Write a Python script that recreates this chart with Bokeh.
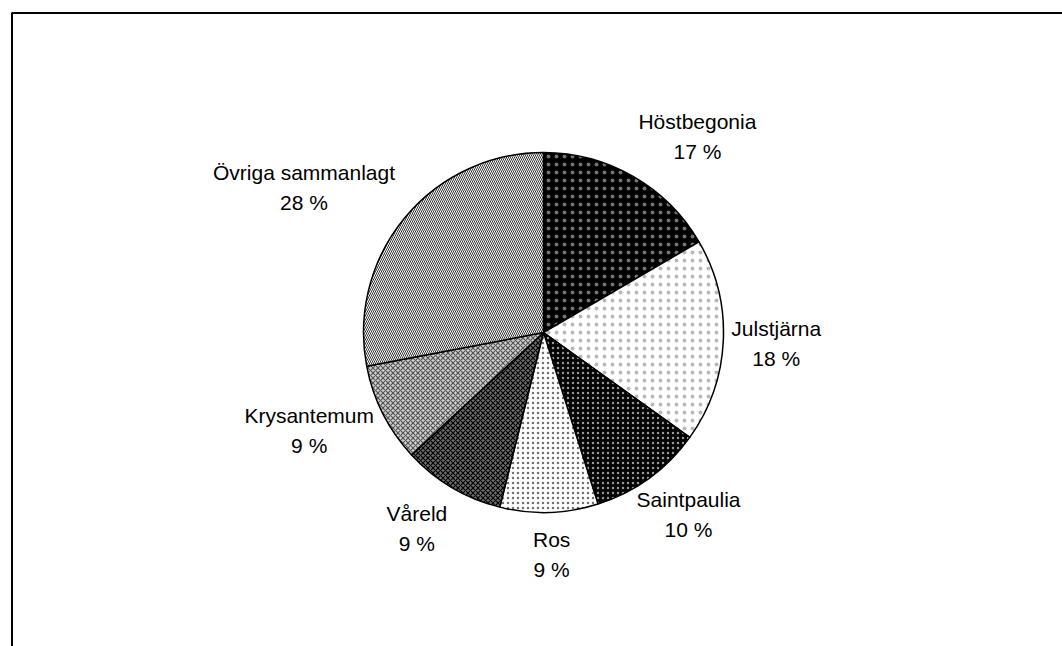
import math
from bokeh.plotting import figure
from bokeh.models import Range1d, BoxAnnotation, ColumnDataSource
from bokeh.embed import file_html
from bokeh.resources import INLINE
from bokeh.core.properties import value

# ---- data ----
categories = ["Höstbegonia", "Julstjärna", "Saintpaulia", "Ros", "Våreld", "Krysantemum", "Övriga sammanlagt"]
shares = [16.6, 18.3, 10.2, 8.8, 9.2, 8.9, 28.0]

# ---- styles (one per slice) ----
fill_colors = ["black", "white", "black", "white", "#6e6e6e", "#d0d0d0", "white"]
hatch_patterns = ["dot", "dot", "dot", "dot", "diagonal_cross", "diagonal_cross", "left_diagonal_line"]
hatch_colors = ["white", "#222222", "white", "#222222", "black", "#555555", "#333333"]
hatch_alphas = [0.45, 0.32, 0.6, 0.65, 1.0, 1.0, 1.0]
hatch_scales = [8, 8, 5, 5, 5, 5, 4]
hatch_weights = [1, 1, 1, 1, 1.2, 1.2, 1.0]

# ---- layout ----
W, H = 1062, 646
CX, CY, R = 543, 314, 180
label_dist = [249, 233, 233, 222, 233, 254, 280]
label_nudge = [8.3, 0.0, -2.5, -0.3, 2.3, 4.1, -8.4]  # degrees
LINE_GAP = 15
FONT = "Liberation Sans"

p = figure(width=W, height=H, x_range=Range1d(0, W), y_range=Range1d(0, H),
           output_backend="svg", toolbar_location=None, min_border=0,
           x_axis_location=None, y_axis_location=None)
p.grid.visible = False
p.outline_line_color = None
p.background_fill_color = "white"
p.border_fill_color = "white"

total = sum(shares)
starts, ends, mids = [], [], []
cum = 0.0
for s in shares:
    a0 = math.pi / 2 - 2 * math.pi * cum / total
    cum += s
    a1 = math.pi / 2 - 2 * math.pi * cum / total
    starts.append(a0)
    ends.append(a1)
    mids.append((a0 + a1) / 2)

src = ColumnDataSource(dict(
    start=starts, end=ends, fill=fill_colors, hp=hatch_patterns,
    hc=hatch_colors, ha=hatch_alphas, hs=hatch_scales, hw=hatch_weights,
))
p.wedge(x=CX, y=CY, radius=R, start_angle="start", end_angle="end", direction="clock",
        source=src, fill_color="fill", hatch_pattern="hp", hatch_color="hc", hatch_alpha="ha",
        hatch_scale="hs", hatch_weight="hw", line_color="black", line_width=1.5)

lx, ly_name, ly_pct, pct_txt = [], [], [], []
for i, m in enumerate(mids):
    a = m - math.radians(label_nudge[i])
    x = CX + label_dist[i] * math.cos(a)
    y = CY + label_dist[i] * math.sin(a)
    lx.append(x)
    ly_name.append(y + LINE_GAP)
    ly_pct.append(y - LINE_GAP)
    pct_txt.append(f"{round(shares[i])} %")

p.text(x=lx, y=ly_name, text=categories, text_align="center", text_baseline="middle",
       text_font=value(FONT), text_font_size="21px", text_color="black")
p.text(x=lx, y=ly_pct, text=pct_txt, text_align="center", text_baseline="middle",
       text_font=value(FONT), text_font_size="21px", text_color="black")

# chart frame (right and bottom edges lie outside the visible page)
p.add_layout(BoxAnnotation(left=11.5, right=W + 30, top=H - 12.5, bottom=-30,
                           fill_alpha=0, line_color="black", line_alpha=1.0, line_width=2))

open("out.html", "w").write(file_html(p, INLINE))
